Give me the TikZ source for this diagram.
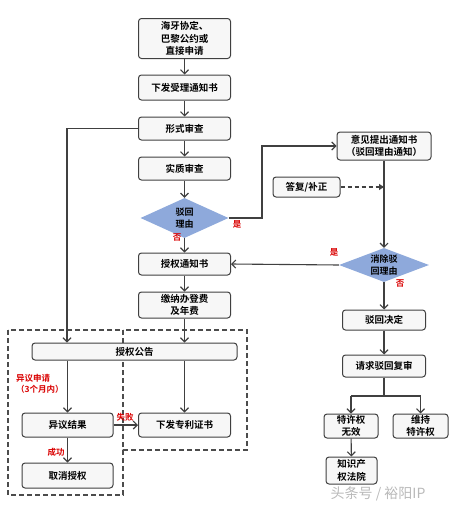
\documentclass[tikz,border=0pt]{standalone}
\usepackage{fontspec}
\setmainfont{Noto Sans CJK SC}[BoldFont={* Bold}]
\newfontfamily\cjkb{Noto Sans CJK SC Bold}
\newfontfamily\cjkr{Noto Sans CJK SC}
\usetikzlibrary{arrows.meta,shapes.geometric,calc}
\definecolor{edge}{HTML}{404040}
\definecolor{dia}{HTML}{8EA9DB}
\tikzset{
  box/.style={draw=edge,line width=1pt,rounded corners=3pt,fill=gray!6,
    minimum width=#1,inner sep=1pt,align=center,font=\cjkb\fontsize{9.5}{12.5}\selectfont},
  box/.default=92pt,
  dec/.style={diamond,draw=none,fill=dia,aspect=2.2,inner sep=0pt,align=center,
    font=\cjkb\fontsize{9}{12}\selectfont},
  arr/.style={draw=edge,line width=1.1pt,-{Straight Barb[length=4pt,width=8pt]}},
  ln/.style={draw=edge,line width=1.1pt},
  lab/.style={text=red!85!black,font=\cjkb\fontsize{8.5}{11}\selectfont,inner sep=0pt,align=left},
  dbox/.style={draw=gray!60!black,line width=1.3pt,dash pattern=on 5pt off 3pt}
}
\begin{document}
\begin{tikzpicture}[x=1pt,y=-1pt]
\useasboundingbox (0,0) rectangle (456,506);
% dashed groups
\draw[dbox] (8,330) rectangle (123,495);
\draw[dbox] (123,330) rectangle (247,450);
% main column
\node[box,minimum height=40pt] (n1) at (184.5,38.5) {海牙协定、\\巴黎公约或\\直接申请};
\node[box,minimum height=25pt] (n2) at (184.5,87.5) {下发受理通知书};
\node[box,minimum height=23pt] (n3) at (184.5,128.5) {形式审查};
\node[box,minimum height=23pt] (n4) at (184.5,168.5) {实质审查};
\node[dec,minimum width=88pt,minimum height=40pt] (d1) at (184.5,218) {驳回\\理由};
\node[box,minimum height=22pt] (n5) at (184.5,264) {授权通知书};
\node[box,minimum height=26pt] (n6) at (184.5,305) {缴纳办登费\\及年费};
\node[box=205pt,minimum height=17pt] (n7) at (134.5,351.5) {授权公告};
\node[box=91pt,minimum height=24pt] (n8) at (67.5,425) {异议结果};
\node[box=91pt,minimum height=25pt] (n9) at (67.5,475.5) {取消授权};
\node[box,minimum height=24pt] (n10) at (184.5,425) {下发专利证书};
% right column
\node[box=94pt,minimum height=28pt] (n11) at (384,146) {意见提出通知书\\（驳回理由通知）};
\node[box=67pt,minimum height=20pt] (n12) at (306.5,187) {答复/补正};
\node[dec,minimum width=90pt,minimum height=34pt] (d2) at (384,265) {消除驳\\回理由};
\node[box=83pt,minimum height=20pt] (n13) at (384,320) {驳回决定};
\node[box=83pt,minimum height=22pt] (n14) at (384,366) {请求驳回复审};
\node[box=54pt,minimum height=24pt] (n15) at (351,426) {特许权\\无效};
\node[box=55pt,minimum height=24pt] (n16) at (420.5,426) {维持\\特许权};
\node[box=51pt,minimum height=27pt] (n17) at (351.5,470.5) {知识产\\权法院};
% coordinates
\coordinate (c1) at (67,128.5);
\coordinate (c2) at (262,218);
\coordinate (c3) at (262,146);
\coordinate (c4) at (384,187);
\coordinate (c5) at (384,396);
\coordinate (c6) at (351,396);
\coordinate (c7) at (420.5,396);
% connectors
\draw[arr] (n1) -- (n2);
\draw[arr] (n2) -- (n3);
\draw[arr] (n3) -- (n4);
\draw[arr] (n4) -- (d1);
\draw[arr] (d1) -- (n5);
\draw[arr] (n5) -- (n6);
\draw[arr] (n6.south) -- (n6.south |- n7.north);
\draw[arr] (n10.north |- n7.south) -- (n10.north);
\draw[arr] (n3.west) -- (c1) -- (c1 |- n7.north);
\draw[arr] (n8.north |- n7.south) -- (n8.north);
\draw[arr] (n8) -- (n9);
\draw[arr] (n8) -- (n10);
\draw[arr] (d1.east) -- (c2) -- (c3) -- (n11.west);
\draw[arr] (n11) -- (d2);
\draw[edge,line width=2pt,dash pattern=on 4pt off 3pt,-{Triangle[length=5pt,width=6pt]}] (n12.east) -- (c4);
\draw[arr] (d2.west) -- (n5.east);
\draw[arr] (d2) -- (n13);
\draw[arr] (n13) -- (n14);
\draw[ln] (n14.south) -- (c5);
\draw[ln] (c6) -- (c7);
\draw[arr] (c6) -- (n15);
\draw[arr] (c7) -- (n16);
\draw[arr] (n15) -- (n17);
% labels
\node[lab] (l1) at (237,224) {是};
\node[lab] (l2) at (177,237) {否};
\node[lab] (l3) at (334,252) {是};
\node[lab] (l4) at (400,283) {否};
\node[lab,anchor=west] (l5) at (16,384) {异议申请\\（3个月内）};
\node[lab] (l6) at (125,417) {失败};
\node[lab] (l7) at (56,452) {成功};
\node[text=gray!55,font=\cjkr\fontsize{14}{14}\selectfont,inner sep=0pt] (wm) at (378,494) {头条号 / 裕阳IP};
\end{tikzpicture}
\end{document}
